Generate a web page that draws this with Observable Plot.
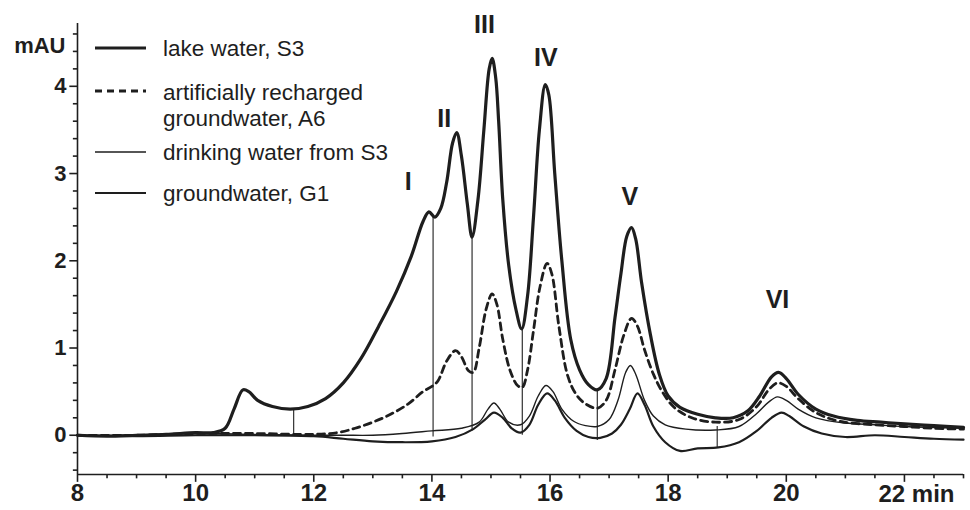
<!DOCTYPE html>
<html><head><meta charset="utf-8">
<script src="https://cdn.jsdelivr.net/npm/d3@7"></script>
<script src="https://cdn.jsdelivr.net/npm/@observablehq/plot@0.6"></script>
<style>
html,body{margin:0;padding:0;background:#fff;}
#wrap{position:relative;width:970px;height:510px;}
#legend{position:absolute;left:0;top:0;pointer-events:none;}
</style></head><body><div id="wrap"></div>
<script>
// retention time (min), absorbance (mAU)
const lakeWater = [
[8.0,0.0],[8.5,-0.01],[9.0,0.0],[9.5,0.01],[10.0,0.03],[10.3,0.03],[10.5,0.08],[10.65,0.3],[10.8,0.52],[10.9,0.5],
[11.05,0.4],[11.3,0.33],[11.6,0.3],[11.9,0.33],[12.2,0.42],[12.5,0.6],[12.8,0.88],[13.1,1.25],[13.4,1.65],[13.65,2.05],
[13.85,2.45],[13.95,2.56],[14.05,2.5],[14.15,2.6],[14.25,2.9],[14.35,3.35],[14.42,3.47],[14.5,3.2],[14.6,2.65],[14.68,2.27],
[14.78,2.7],[14.88,3.5],[14.97,4.2],[15.02,4.32],[15.08,4.1],[15.13,3.6],[15.2,2.7],[15.3,1.95],[15.42,1.45],[15.52,1.22],
[15.62,1.6],[15.72,2.5],[15.82,3.5],[15.92,4.02],[15.98,3.9],[16.08,3.0],[16.2,2.0],[16.35,1.1],[16.5,0.75],[16.65,0.58],
[16.8,0.52],[16.95,0.65],[17.1,1.35],[17.2,1.85],[17.3,2.28],[17.38,2.38],[17.45,2.25],[17.55,1.75],[17.7,1.15],[17.85,0.7],
[18.0,0.45],[18.2,0.32],[18.5,0.24],[18.8,0.2],[19.1,0.2],[19.35,0.28],[19.55,0.45],[19.75,0.67],[19.87,0.72],[20.0,0.65],
[20.2,0.47],[20.5,0.3],[20.8,0.22],[21.2,0.17],[21.6,0.15],[22.0,0.13],[22.5,0.11],[23.0,0.09]
];
const rechargedA6 = [
[8.0,0.0],[9.0,0.0],[10.0,0.02],[11.0,0.02],[12.0,0.01],[12.4,0.03],[12.7,0.08],[13.0,0.15],[13.3,0.24],[13.6,0.36],
[13.85,0.5],[14.0,0.56],[14.1,0.62],[14.25,0.85],[14.4,0.97],[14.5,0.9],[14.62,0.74],[14.7,0.72],[14.8,1.0],[14.92,1.45],
[15.02,1.62],[15.1,1.5],[15.2,1.1],[15.32,0.75],[15.45,0.57],[15.53,0.55],[15.62,0.75],[15.72,1.2],[15.83,1.7],[15.95,1.97],
[16.03,1.85],[16.15,1.25],[16.3,0.68],[16.45,0.46],[16.6,0.36],[16.8,0.31],[16.95,0.4],[17.1,0.75],[17.25,1.15],[17.38,1.34],
[17.48,1.25],[17.6,0.98],[17.75,0.7],[17.9,0.5],[18.1,0.32],[18.4,0.2],[18.8,0.15],[19.2,0.18],[19.5,0.33],[19.7,0.52],
[19.85,0.6],[20.0,0.56],[20.2,0.42],[20.5,0.26],[20.9,0.16],[21.5,0.12],[22.0,0.1],[22.5,0.08],[23.0,0.07]
];
const drinkingWater = [
[8.0,0.0],[9.0,0.0],[10.0,0.02],[11.0,0.01],[12.0,0.0],[12.5,0.0],[13.0,0.0],[13.5,0.02],[14.0,0.05],[14.5,0.08],
[14.8,0.15],[14.95,0.3],[15.05,0.37],[15.15,0.3],[15.3,0.15],[15.5,0.12],[15.65,0.22],[15.8,0.45],[15.93,0.57],[16.05,0.5],
[16.2,0.3],[16.4,0.16],[16.6,0.11],[16.8,0.1],[17.0,0.18],[17.15,0.4],[17.28,0.72],[17.36,0.8],[17.45,0.7],[17.6,0.4],
[17.75,0.22],[17.95,0.12],[18.3,0.07],[18.8,0.06],[19.2,0.1],[19.5,0.25],[19.7,0.38],[19.85,0.44],[20.0,0.4],[20.2,0.3],
[20.5,0.2],[21.0,0.14],[21.5,0.12],[22.0,0.1],[23.0,0.08]
];
const groundwaterG1 = [
[8.0,0.0],[9.0,-0.01],[10.0,0.0],[11.0,0.0],[12.0,-0.01],[12.5,-0.04],[13.0,-0.07],[13.5,-0.08],[14.0,-0.07],[14.4,-0.02],
[14.7,0.07],[14.9,0.18],[15.05,0.26],[15.2,0.2],[15.35,0.08],[15.5,0.03],[15.65,0.12],[15.8,0.35],[15.95,0.48],[16.08,0.4],
[16.25,0.2],[16.45,0.05],[16.65,-0.02],[16.85,-0.03],[17.05,0.02],[17.2,0.12],[17.35,0.3],[17.48,0.48],[17.6,0.35],[17.75,0.1],
[17.95,-0.08],[18.2,-0.18],[18.5,-0.15],[18.85,-0.14],[19.2,-0.08],[19.5,0.05],[19.75,0.2],[19.92,0.26],[20.05,0.22],[20.3,0.1],
[20.6,0.02],[21.0,-0.02],[21.5,0.0],[22.0,-0.02],[22.5,-0.04],[23.0,-0.05]
];
// integration drop lines: time, lower, upper
const dropTimes = [11.66, 14.02, 14.68, 15.53, 16.8, 18.83];
const dropLow   = [0.0, -0.02, 0.05, 0.0, -0.06, -0.15];
const dropHigh  = [0.29, 2.52, 2.27, 1.22, 0.53, 0.1];
// peak labels
const peakLabels = ["I","II","III","IV","V","VI"];
const peakTimes  = [13.6, 14.21, 14.89, 15.93, 17.35, 19.85];
const peakLabelY = [2.9, 3.63, 4.7, 4.33, 2.73, 1.55];
// axes
const xTicks = [8,10,12,14,16,18,20,22];
const xMinorTicks = [8.5,9,9.5,10.5,11,11.5,12.5,13,13.5,14.5,15,15.5,16.5,17,17.5,18.5,19,19.5,20.5,21,21.5,22.5,23];
const yTicks = [0,1,2,3,4];
const yMinorTicks = [-0.4,-0.2,0.2,0.4,0.6,0.8,1.2,1.4,1.6,1.8,2.2,2.4,2.6,2.8,3.2,3.4,3.6,3.8,4.2,4.4,4.6];
const xDomain = [8, 23];
const yDomain = [-0.45, 4.72];
const seriesNames = ["lake water, S3", "artificially recharged|groundwater, A6", "drinking water from S3", "groundwater, G1"];

const ink = "#1e1e1e";
const toRows = arr => arr.map(([t, v]) => ({t, v}));
const drops = dropTimes.map((t, i) => ({t, lo: dropLow[i], hi: dropHigh[i]}));
const peaks = peakLabels.map((s, i) => ({s, t: peakTimes[i], y: peakLabelY[i]}));
const x0 = xDomain[0], y0 = yDomain[0];

const chart = Plot.plot({
  width: 970, height: 510,
  marginLeft: 77, marginRight: 7, marginTop: 23, marginBottom: 36,
  x: {domain: xDomain, type: "linear"},
  y: {domain: yDomain, type: "linear"},
  style: {fontFamily: "'Liberation Sans', Arial, sans-serif", color: ink, background: "#fff"},
  marks: [
    Plot.ruleX([x0], {stroke: ink, strokeWidth: 1.6}),
    Plot.ruleY([y0], {stroke: ink, strokeWidth: 1.6}),
    // tick marks (outside the frame)
    Plot.ruleY(yMinorTicks, {x1: x0 - 0.07, x2: x0, stroke: ink, strokeWidth: 1.6}),
    Plot.ruleY(yTicks, {x1: x0 - 0.13, x2: x0, stroke: ink, strokeWidth: 1.6}),
    Plot.ruleX(xMinorTicks, {y1: y0 - 0.05, y2: y0, stroke: ink, strokeWidth: 1.6}),
    Plot.ruleX(xTicks, {y1: y0 - 0.09, y2: y0, stroke: ink, strokeWidth: 1.6}),
    Plot.axisY({ticks: yTicks, tickSize: 0, tickPadding: 11, fontSize: 22, fontWeight: "bold", label: null,
      tickFormat: d => String(d)}),
    Plot.axisX({ticks: xTicks, tickSize: 0, tickPadding: 9, fontSize: 24, fontWeight: "bold", label: null,
      tickFormat: d => d === 22 ? "" : String(d)}),
    Plot.text(["22 min"], {x: [22], frameAnchor: "bottom", dy: 27, dx: -26, textAnchor: "start", fontSize: 24, fontWeight: "bold", fill: ink}),
    Plot.text(["mAU"], {frameAnchor: "top-left", dx: -12, dy: 14, textAnchor: "end", fontSize: 22, fontWeight: "bold", fill: ink}),
    Plot.ruleX(drops, {x: "t", y1: "lo", y2: "hi", stroke: ink, strokeWidth: 1.1}),
    Plot.line(toRows(groundwaterG1), {x: "t", y: "v", stroke: ink, strokeWidth: 2.2, curve: "catmull-rom"}),
    Plot.line(toRows(drinkingWater), {x: "t", y: "v", stroke: ink, strokeWidth: 1.4, curve: "catmull-rom"}),
    Plot.line(toRows(rechargedA6), {x: "t", y: "v", stroke: ink, strokeWidth: 2.8, strokeDasharray: "7,5", curve: "catmull-rom"}),
    Plot.line(toRows(lakeWater), {x: "t", y: "v", stroke: ink, strokeWidth: 3.2, curve: "catmull-rom"}),
    Plot.text(peaks, {x: "t", y: "y", text: "s", fontSize: 25, fontWeight: "bold", fill: ink})
  ]
});
const wrap = document.getElementById("wrap");
wrap.appendChild(chart);

// legend overlay
const leg = d3.select(wrap).append("svg").attr("id", "legend").attr("width", 970).attr("height", 510)
  .style("font-family", "'Liberation Sans', Arial, sans-serif");
const legRows = [
  {y: 48, w: 3.2, dash: null},
  {y: 91, w: 2.8, dash: "7,5"},
  {y: 152, w: 1.4, dash: null},
  {y: 193, w: 2.2, dash: null}
];
const textTops = [48, 92, 152, 193];
legRows.forEach((r, i) => {
  leg.append("line").attr("x1", 95).attr("x2", 146).attr("y1", r.y).attr("y2", r.y)
    .attr("stroke", ink).attr("stroke-width", r.w).attr("stroke-dasharray", r.dash);
  const parts = seriesNames[i].split("|");
  const t = leg.append("text").attr("x", 163).attr("y", textTops[i])
    .attr("font-size", 22.5).attr("fill", ink);
  parts.forEach((p, j) => t.append("tspan").attr("x", 163).attr("dy", j === 0 ? "0.35em" : "1.18em").text(p));
});
</script></body></html>
